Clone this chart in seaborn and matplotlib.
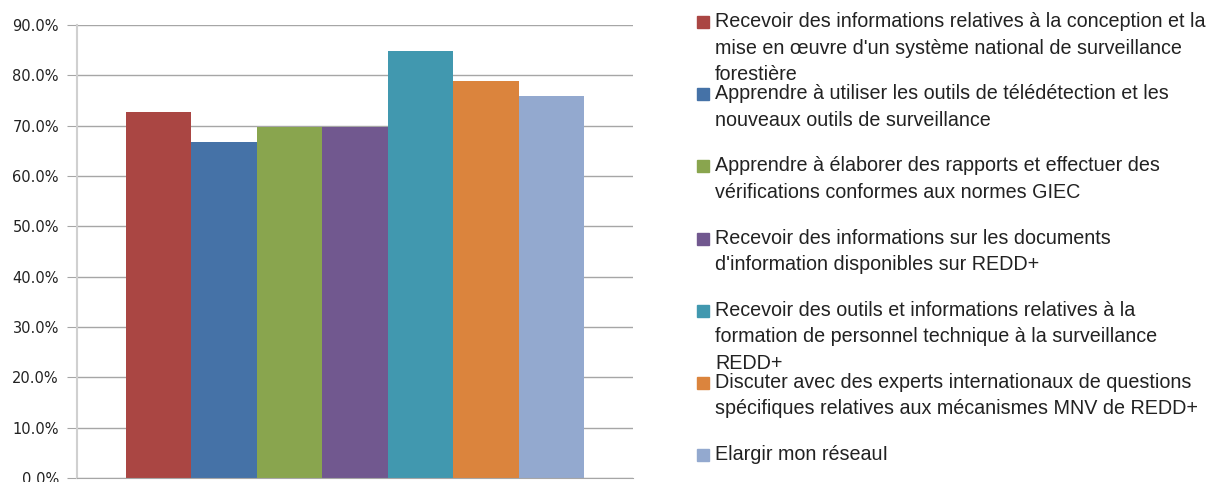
import pandas as pd
import seaborn as sns
import matplotlib.pyplot as plt
from matplotlib.patches import Rectangle
from matplotlib.ticker import FuncFormatter

# réponses (part des participants)
libelles = [
    "Recevoir des informations relatives à la conception et la\nmise en œuvre d'un système national de surveillance\nforestière",
    "Apprendre à utiliser les outils de télédétection et les\nnouveaux outils de surveillance",
    "Apprendre à élaborer des rapports et effectuer des\nvérifications conformes aux normes GIEC",
    "Recevoir des informations sur les documents\nd'information disponibles sur REDD+",
    "Recevoir des outils et informations relatives à la\nformation de personnel technique à la surveillance\nREDD+",
    "Discuter avec des experts internationaux de questions\nspécifiques relatives aux mécanismes MNV de REDD+",
    "Elargir mon réseauI",
]
valeurs = [0.727, 0.667, 0.697, 0.697, 0.848, 0.788, 0.758]
couleurs = ["#AA4643", "#4572A7", "#89A54E", "#71588F", "#4198AF", "#DB843D", "#93A9CF"]
graduations = [0.0, 0.1, 0.2, 0.3, 0.4, 0.5, 0.6, 0.7, 0.8, 0.9]

df = pd.DataFrame({"groupe": [""] * len(valeurs), "libelle": libelles, "valeur": valeurs})

W, H = 1218, 482
fig = plt.figure(figsize=(W / 100, H / 100), dpi=100)
ax = fig.add_axes([77 / W, 4 / H, 556 / W, 453 / H])

sns.barplot(data=df, x="groupe", y="valeur", hue="libelle", hue_order=libelles,
            palette=dict(zip(libelles, couleurs)), saturation=1, width=0.824,
            linewidth=0, legend=False, ax=ax)

ax.set_ylim(0, 0.9)
ax.set_xlim(-0.5, 0.5)
ax.set_yticks(graduations)
ax.yaxis.set_major_formatter(FuncFormatter(lambda v, p: f"{v * 100:.1f}%"))
ax.set_xticks([])
ax.set_xlabel("")
ax.set_ylabel("")
ax.grid(axis="y", color="#A6A6A6", linewidth=1)
ax.set_axisbelow(True)
for s in ["top", "right"]:
    ax.spines[s].set_visible(False)
ax.spines["left"].set_color("#D0D0D0")
ax.spines["left"].set_linewidth(1.5)
ax.spines["bottom"].set_color("#A6A6A6")
ax.tick_params(axis="y", length=7, color="#A6A6A6", labelsize=10.5, pad=6)
for t in ax.get_yticklabels():
    t.set_family("DejaVu Sans")
    t.set_color("#222222")

# légende à droite
for i, (lib, c) in enumerate(zip(libelles, couleurs)):
    centre = 22 + 72.2 * i
    fig.patches.append(Rectangle((697 / W, 1 - (centre + 6) / H), 12 / W, 12 / H,
                                 transform=fig.transFigure, color=c))
    fig.text(715 / W, 1 - (centre - 10) / H, lib, va="top", ha="left",
             fontsize=14.2, family="Liberation Sans", color="#222222", linespacing=1.5)

fig.savefig("out.png", dpi=100)
